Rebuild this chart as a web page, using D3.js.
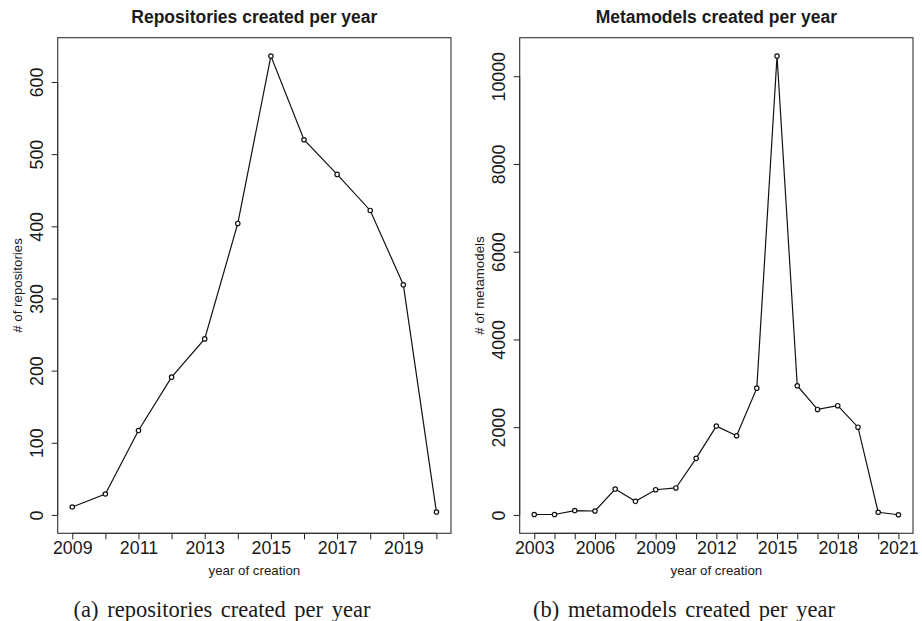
<!DOCTYPE html>
<html lang="en">
  <head>
    <meta charset="utf-8">
    <title>Repositories and metamodels per year</title>
    <script src="https://d3js.org/d3.v7.js"></script>
    <style>
      body { margin: 0; background: white; }
      text { fill: #1a1a1a; }
    </style>
  </head>

  <body>
    <script>

      // data

      const repoYears = [2009, 2010, 2011, 2012, 2013, 2014, 2015, 2016, 2017, 2018, 2019, 2020];
      const repoCounts = [11, 29, 117, 191, 244, 404, 636, 520, 472, 422, 319, 4];
      const repoXLabels = [2009, 2011, 2013, 2015, 2017, 2019];
      const repoYTicks = [0, 100, 200, 300, 400, 500, 600];

      const mmYears = [2003, 2004, 2005, 2006, 2007, 2008, 2009, 2010, 2011, 2012,
                       2013, 2014, 2015, 2016, 2017, 2018, 2019, 2020, 2021];
      const mmCounts = [10, 10, 100, 90, 590, 310, 575, 615, 1290, 2025,
                        1805, 2890, 10460, 2945, 2405, 2490, 2000, 60, 5];
      const mmXLabels = [2003, 2006, 2009, 2012, 2015, 2018, 2021];
      const mmYTicks = [0, 2000, 4000, 6000, 8000, 10000];

      const w = 922;
      const h = 621;

      const svg = d3.select("body")
                    .append("svg")
                    .attr("width", w)
                    .attr("height", h);

      svg.append("rect")
         .attr("width", w)
         .attr("height", h)
         .attr("fill", "white");

      // one R-style panel: box, axes, line with open circles
      function drawPanel(left, title, ylabel, caption, captionX, years, counts, xLabels, yTicks) {
        const box = {x0: left, x1: left + 393.3, y0: 37.7, y1: 533.3};
        const g = svg.append("g");

        const xr = d3.extent(years);
        const xpad = (xr[1] - xr[0]) * 0.04;
        const x = d3.scaleLinear()
                    .domain([xr[0] - xpad, xr[1] + xpad])
                    .range([box.x0, box.x1]);

        const ymax = d3.max(counts);
        const y = d3.scaleLinear()
                    .domain([-ymax * 0.04, ymax * 1.04])
                    .range([box.y1, box.y0]);

        // x axis: tick at every year, labels only on some
        const xAxis = d3.axisBottom(x)
                        .tickValues(years)
                        .tickSize(6)
                        .tickFormat(d => xLabels.includes(d) ? d : "");
        const gx = g.append("g")
                    .attr("transform", `translate(0, ${box.y1})`)
                    .call(xAxis);
        gx.select(".domain")
          .attr("d", `M${x(years[0])},0H${x(years[years.length - 1])}`)
          .attr("stroke", "#222");
        gx.selectAll(".tick line").attr("stroke", "#222");
        gx.selectAll(".tick text")
          .attr("y", 20.7)
          .attr("dy", 0)
          .attr("font-family", "Liberation Sans, Arial, sans-serif")
          .attr("font-size", 17.8)
          .attr("fill", "#1a1a1a");

        // y axis with labels parallel to the axis
        const yAxis = d3.axisLeft(y)
                        .tickValues(yTicks)
                        .tickSize(6)
                        .tickFormat(d3.format("d"));
        const gy = g.append("g")
                    .attr("transform", `translate(${box.x0}, 0)`)
                    .call(yAxis);
        gy.select(".domain")
          .attr("d", `M0,${y(yTicks[0])}V${y(yTicks[yTicks.length - 1])}`)
          .attr("stroke", "#222");
        gy.selectAll(".tick line").attr("stroke", "#222");
        gy.selectAll(".tick text")
          .attr("x", 0)
          .attr("dy", 0)
          .attr("transform", "translate(-14.5, 0) rotate(-90)")
          .attr("text-anchor", "middle")
          .attr("font-family", "Liberation Sans, Arial, sans-serif")
          .attr("font-size", 17.8)
          .attr("fill", "#1a1a1a");

        // box
        g.append("rect")
         .attr("x", box.x0)
         .attr("y", box.y0)
         .attr("width", box.x1 - box.x0)
         .attr("height", box.y1 - box.y0)
         .attr("fill", "none")
         .attr("stroke", "#333")
         .attr("stroke-width", 1.1);

        // line + points
        const pts = years.map((yr, i) => ({year: yr, value: counts[i]}));
        const line = d3.line()
                       .x(d => x(d.year))
                       .y(d => y(d.value));

        g.append("path")
         .datum(pts)
         .attr("d", line)
         .attr("fill", "none")
         .attr("stroke", "#111")
         .attr("stroke-width", 1.2);

        g.selectAll("circle")
         .data(pts)
         .enter().append("circle")
         .attr("cx", d => x(d.year))
         .attr("cy", d => y(d.value))
         .attr("r", 2.2)
         .attr("fill", "white")
         .attr("stroke", "#111")
         .attr("stroke-width", 1.2);

        // titles
        const cx = (box.x0 + box.x1) / 2;
        g.append("text")
         .attr("x", cx)
         .attr("y", 22.5)
         .attr("text-anchor", "middle")
         .attr("font-family", "Liberation Sans, Arial, sans-serif")
         .attr("font-weight", "bold")
         .attr("font-size", 17.5)
         .text(title);

        g.append("text")
         .attr("x", cx)
         .attr("y", 575)
         .attr("text-anchor", "middle")
         .attr("font-family", "Liberation Sans, Arial, sans-serif")
         .attr("font-size", 13.3)
         .text("year of creation");

        g.append("text")
         .attr("transform", `translate(${box.x0 - 36}, ${(box.y0 + box.y1) / 2}) rotate(-90)`)
         .attr("text-anchor", "middle")
         .attr("font-family", "Liberation Sans, Arial, sans-serif")
         .attr("font-size", 13.3)
         .text(ylabel);

        g.append("text")
         .attr("x", captionX)
         .attr("y", 617)
         .attr("text-anchor", "middle")
         .attr("font-family", "Liberation Serif, Times New Roman, serif")
         .attr("font-size", 22.5)
         .attr("word-spacing", 3)
         .text(caption);
      }

      drawPanel(57.7, "Repositories created per year", "# of repositories",
                "(a) repositories created per year", 222,
                repoYears, repoCounts, repoXLabels, repoYTicks);

      drawPanel(519.7, "Metamodels created per year", "# of metamodels",
                "(b) metamodels created per year", 684,
                mmYears, mmCounts, mmXLabels, mmYTicks);

    </script>
  </body>
</html>
